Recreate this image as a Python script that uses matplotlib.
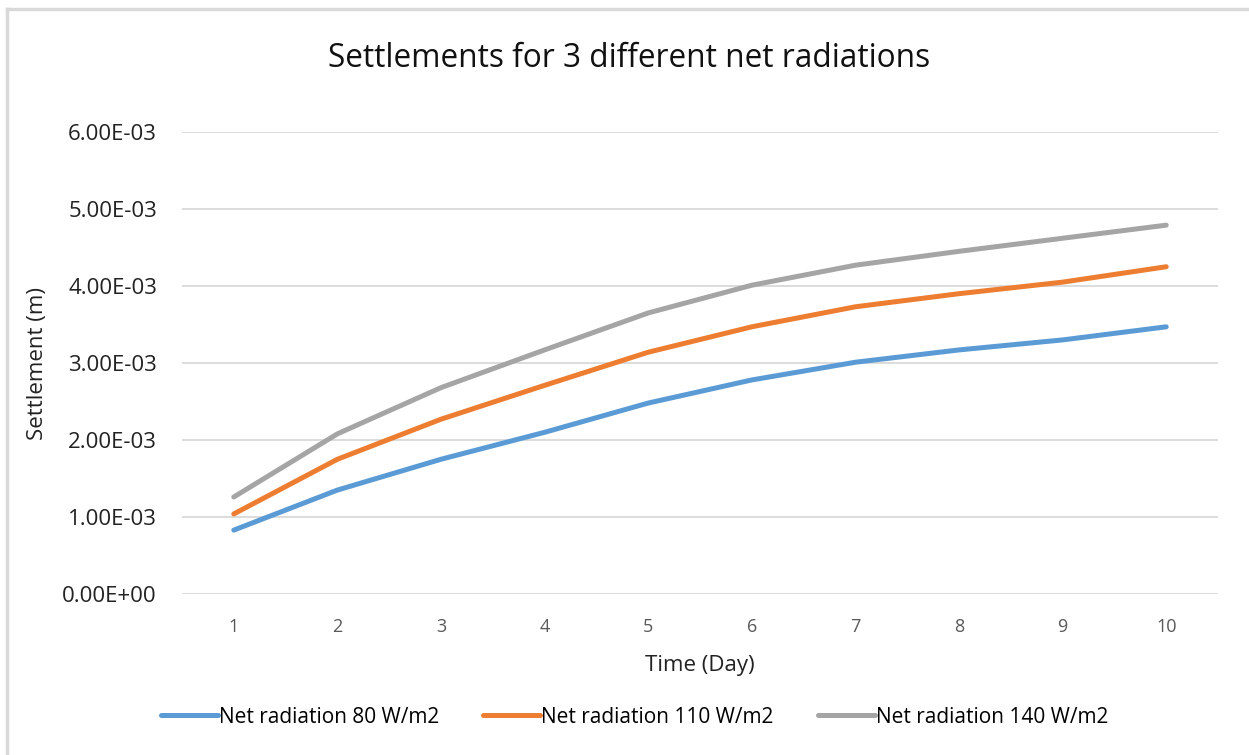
import numpy as np
import matplotlib
matplotlib.use("Agg")
from matplotlib import pyplot as plt
from matplotlib.lines import Line2D

# Data
days = [1, 2, 3, 4, 5, 6, 7, 8, 9, 10]
settle_80 = [0.83e-3, 1.35e-3, 1.75e-3, 2.10e-3, 2.48e-3, 2.78e-3, 3.01e-3, 3.17e-3, 3.30e-3, 3.47e-3]
settle_110 = [1.04e-3, 1.75e-3, 2.27e-3, 2.71e-3, 3.14e-3, 3.47e-3, 3.73e-3, 3.90e-3, 4.05e-3, 4.25e-3]
settle_140 = [1.26e-3, 2.08e-3, 2.68e-3, 3.17e-3, 3.65e-3, 4.01e-3, 4.27e-3, 4.45e-3, 4.62e-3, 4.79e-3]
labels = ["Net radiation 80 W/m2", "Net radiation 110 W/m2", "Net radiation 140 W/m2"]
colors = ["#5B9BD5", "#ED7D31", "#A5A5A5"]
yticks = [0, 1e-3, 2e-3, 3e-3, 4e-3, 5e-3, 6e-3]

plt.rcParams["font.family"] = ["Open Sans", "DejaVu Sans"]

fig = plt.figure(figsize=(12.49, 7.55), dpi=100)
ax = fig.add_axes([0.1457, 0.2132, 0.8295, 0.612])

for ys, lab, col in zip([settle_80, settle_110, settle_140], labels, colors):
    ax.plot(days, ys, color=col, linewidth=3.6, solid_capstyle="round", label=lab)

ax.set_xlim(0.5, 10.5)
ax.set_ylim(0, 6e-3)
ax.set_xticks(days)
ax.set_yticks(yticks)
ax.set_yticklabels(["%.2E" % v for v in yticks], fontsize=16, color="#222222")
ax.tick_params(axis="x", labelsize=13, colors="#595959", length=0, pad=17)
ax.tick_params(axis="y", length=0, pad=18)
ax.grid(axis="y", color="#D9D9D9", linewidth=1.3)
ax.set_axisbelow(True)
for s in ax.spines.values():
    s.set_visible(False)

ax.set_xlabel("Time (Day)", fontsize=16, color="#222222", labelpad=14)
ax.set_ylabel("Settlement (m)", fontsize=16, color="#222222", labelpad=10)
fig.text(0.504, 0.922, "Settlements for 3 different net radiations",
         ha="center", va="center", fontsize=22.8, color="#111111")

fig.legend(loc="center", bbox_to_anchor=(0.508, 0.05), ncol=3, frameon=False,
           fontsize=15, handlelength=2.75, handletextpad=0.05, columnspacing=2.1)

# chart area border (top and left only are visible)
fig.add_artist(Line2D([7 / 1249, 7 / 1249], [0, 1 - 9 / 755], color="#D9D9D9", linewidth=2.5))
fig.add_artist(Line2D([7 / 1249, 1], [1 - 9 / 755, 1 - 9 / 755], color="#D9D9D9", linewidth=2.5))

plt.savefig("out.png", dpi=100)
